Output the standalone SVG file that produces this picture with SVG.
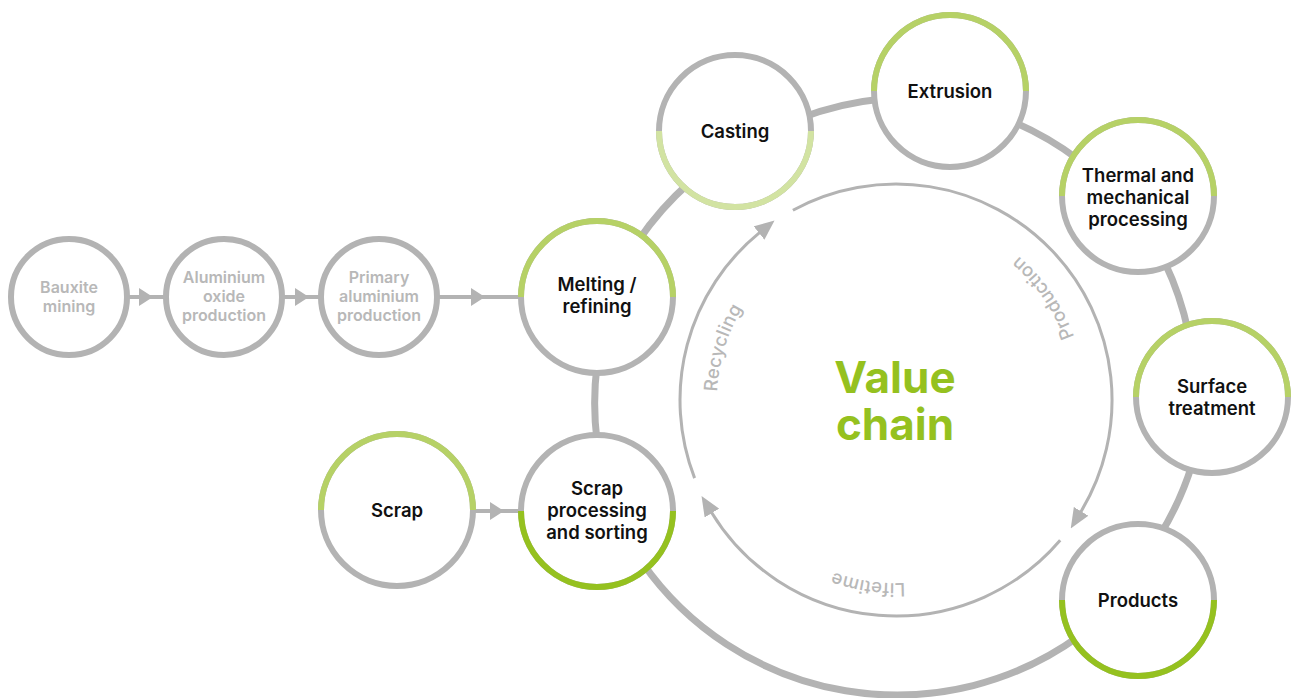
<svg xmlns="http://www.w3.org/2000/svg" width="1292" height="698" viewBox="0 0 1292 698">
  <defs>
    <style>
      .ring{fill:none;stroke:#b3b3b3;stroke-width:7}
      .feed{fill:none;stroke:#b3b3b3;stroke-width:4}
      .head{fill:#b3b3b3}
      .cyc{fill:none;stroke:#b3b3b3;stroke-width:3}
      .node{fill:#fff;stroke:#b3b3b3;stroke-width:6}
      .half-lg{fill:none;stroke:#b6d166;stroke-width:6}
      .half-pale{fill:none;stroke:#d2e3a2;stroke-width:6}
      .half-g{fill:none;stroke:#95c11f;stroke-width:6}
      .lbl{font-family:Inter,'Liberation Sans',sans-serif;font-weight:600;font-size:18.5px;fill:#111;text-anchor:middle}
      .lbl-muted{font-family:Inter,'Liberation Sans',sans-serif;font-weight:600;font-size:16px;fill:#b8b8b8;text-anchor:middle}
      .cyc-t{font-family:Inter,'Liberation Sans',sans-serif;font-weight:500;font-size:18.5px;letter-spacing:0.3px;fill:#b8b8b8;text-anchor:middle}
      .title{font-family:Inter,'Liberation Sans',sans-serif;font-weight:700;font-size:44px;fill:#95c11f;text-anchor:middle}
    </style>
    <marker id="tip" markerUnits="userSpaceOnUse" markerWidth="20" markerHeight="17" viewBox="0 0 20 17" refX="1" refY="8.5" orient="auto">
      <path d="M0 0 L20 8.5 L0 17 Z" fill="#b3b3b3"/>
    </marker>
    <!-- baselines for the cycle labels -->
    <path id="p-rec" d="M766.2 521.8 A177 177 0 0 1 855.3 226.7"/>
    <path id="p-life" d="M1036.7 512.3 A177 177 0 0 1 728.4 465.7"/>
    <path id="p-prod" d="M1066.7 481.1 A189 189 0 0 0 880.8 211.6"/>
  </defs>

  <rect width="1292" height="698" fill="#fff"/>

  <g id="connectors">
    <!-- outer ring between the process steps -->
    <path class="ring" d="M597 441 A310 310 0 0 1 597 365"/>
    <path class="ring" d="M638.4 240.5 A310 310 0 0 1 689.6 182.5"/>
    <path class="ring" d="M801 118 A310 310 0 0 1 882 99"/>
    <path class="ring" d="M1009 120 A310 310 0 0 1 1079 160"/>
    <path class="ring" d="M1164.8 262.5 A310 310 0 0 1 1188.2 331.5"/>
    <path class="ring" d="M1191.9 465 A310 310 0 0 1 1160 535"/>
    <path class="ring" d="M1079.8 635.6 A311 311 0 0 1 642.2 562.4"/>

    <!-- primary feed chain -->
    <line class="feed" x1="127" y1="297" x2="166" y2="297"/>
    <polygon class="head" points="139,288 153,297 139,306"/>
    <line class="feed" x1="282" y1="297" x2="321" y2="297"/>
    <polygon class="head" points="295,288 309,297 295,306"/>
    <line class="feed" x1="437" y1="297" x2="521" y2="297"/>
    <polygon class="head" points="471,288 485,297 471,306"/>
    <line class="feed" x1="474" y1="511" x2="521" y2="511"/>
    <polygon class="head" points="490,502 504,511 490,520"/>
  </g>

  <g id="cycle">
    <path class="cyc" marker-end="url(#tip)" d="M694.6 478.1 A216 216 0 0 1 759.8 232.4"/>
    <path class="cyc" marker-end="url(#tip)" d="M792.9 210.2 A216 216 0 0 1 1080.6 512.2"/>
    <path class="cyc" marker-end="url(#tip)" d="M1060.2 540.3 A216 216 0 0 1 711.4 512.2"/>
    <text class="cyc-t"><textPath href="#p-rec" startOffset="50%">Recycling</textPath></text>
    <text class="cyc-t"><textPath href="#p-life" startOffset="50%">Lifetime</textPath></text>
    <text class="cyc-t"><textPath href="#p-prod" startOffset="50%">Production</textPath></text>
    <text class="title"><tspan x="895" y="393">Value</tspan><tspan x="895" y="440">chain</tspan></text>
  </g>

  <g id="bauxite-mining">
    <circle class="node" cx="69" cy="297" r="58"/>
    <text class="lbl-muted" x="69" y="293">Bauxite</text>
    <text class="lbl-muted" x="69" y="312">mining</text>
  </g>
  <g id="aluminium-oxide-production">
    <circle class="node" cx="224" cy="297" r="58"/>
    <text class="lbl-muted" x="224" y="283">Aluminium</text>
    <text class="lbl-muted" x="224" y="302">oxide</text>
    <text class="lbl-muted" x="224" y="321">production</text>
  </g>
  <g id="primary-aluminium-production">
    <circle class="node" cx="379" cy="297" r="58"/>
    <text class="lbl-muted" x="379" y="283">Primary</text>
    <text class="lbl-muted" x="379" y="302">aluminium</text>
    <text class="lbl-muted" x="379" y="321">production</text>
  </g>

  <g id="melting-refining">
    <circle class="node" cx="597" cy="297" r="76"/>
    <path class="half-lg" d="M521 297 A76 76 0 0 1 673 297"/>
    <text class="lbl" x="597" y="290.5">Melting /</text>
    <text class="lbl" x="597" y="313">refining</text>
  </g>
  <g id="casting">
    <circle class="node" cx="735" cy="131" r="76"/>
    <path class="half-pale" d="M811 131 A76 76 0 0 1 659 131"/>
    <text class="lbl" x="735" y="137.5">Casting</text>
  </g>
  <g id="extrusion">
    <circle class="node" cx="950" cy="91" r="76"/>
    <path class="half-lg" d="M874 91 A76 76 0 0 1 1026 91"/>
    <text class="lbl" x="950" y="97.5">Extrusion</text>
  </g>
  <g id="thermal-mechanical-processing">
    <circle class="node" cx="1138" cy="196" r="76"/>
    <path class="half-lg" d="M1062 196 A76 76 0 0 1 1214 196"/>
    <text class="lbl" x="1138" y="181.5">Thermal and</text>
    <text class="lbl" x="1138" y="203.5">mechanical</text>
    <text class="lbl" x="1138" y="225.5">processing</text>
  </g>
  <g id="surface-treatment">
    <circle class="node" cx="1212" cy="397" r="76"/>
    <path class="half-lg" d="M1136 397 A76 76 0 0 1 1288 397"/>
    <text class="lbl" x="1212" y="392.5">Surface</text>
    <text class="lbl" x="1212" y="414.5">treatment</text>
  </g>
  <g id="products">
    <circle class="node" cx="1138" cy="600" r="76"/>
    <path class="half-g" d="M1214 600 A76 76 0 0 1 1062 600"/>
    <text class="lbl" x="1138" y="606.5">Products</text>
  </g>
  <g id="scrap-processing-sorting">
    <circle class="node" cx="597" cy="511" r="76"/>
    <path class="half-g" d="M673 511 A76 76 0 0 1 521 511"/>
    <text class="lbl" x="597" y="495">Scrap</text>
    <text class="lbl" x="597" y="517">processing</text>
    <text class="lbl" x="597" y="539">and sorting</text>
  </g>
  <g id="scrap">
    <circle class="node" cx="397" cy="510" r="76"/>
    <path class="half-lg" d="M321 510 A76 76 0 0 1 473 510"/>
    <text class="lbl" x="397" y="517">Scrap</text>
  </g>
</svg>
